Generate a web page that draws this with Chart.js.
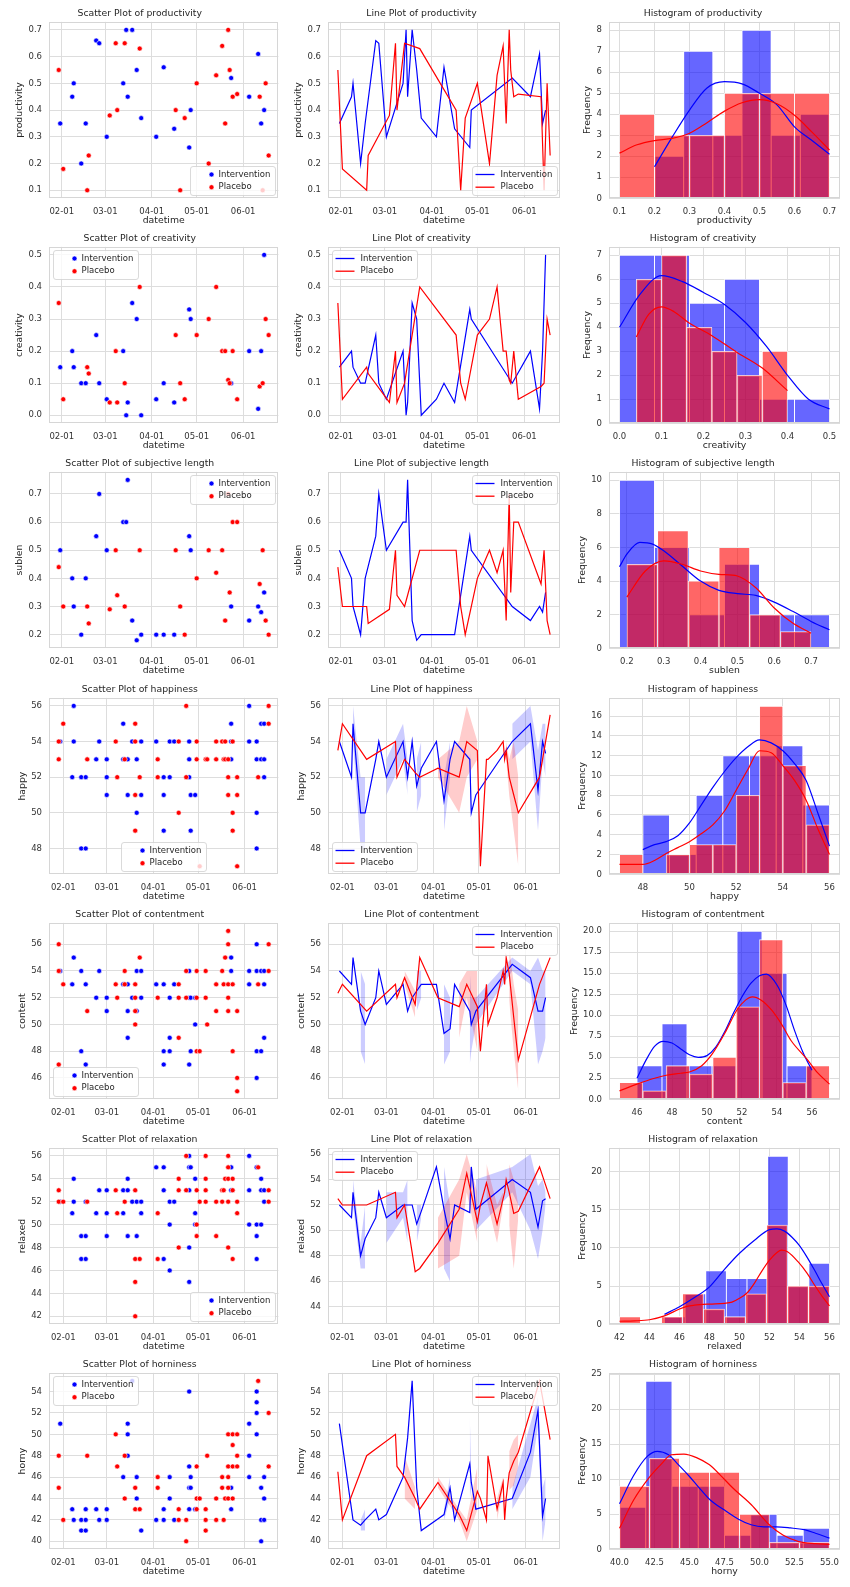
<!DOCTYPE html>
<html>
<head>
<meta charset="utf-8">
<script src="https://cdn.jsdelivr.net/npm/chart.js@4.4.1/dist/chart.umd.min.js"></script>
<style>
html,body{margin:0;padding:0;background:#fff;}
#wrap{position:relative;width:850px;height:1587px;overflow:hidden;background:#fff;}
#wrap canvas{position:absolute;}
</style>
</head>
<body>
<div id="wrap"></div>
<script>
// ---------------- DATA ----------------
const groupNames = ['Intervention', 'Placebo'];
const dateTickDays = [31, 60, 91, 121, 152];
const dateTickLabels = ['02-01', '03-01', '04-01', '05-01', '06-01'];

// rows 1-3: one measurement per day (day of year, Jan 1 = 0)
const intDaysA = [30,38,39,44,47,54,56,61,72,74,75,78,81,84,94,99,106,116,117,144,156,162,164,166];
const plcDaysA = [29,32,48,49,63,67,68,73,83,107,110,113,121,129,134,138,140,142,143,145,148,163,165,167,169];
const productivityInt = [0.35,0.45,0.5,0.2,0.35,0.66,0.65,0.3,0.5,0.7,0.45,0.7,0.55,0.37,0.3,0.56,0.33,0.26,0.4,0.52,0.45,0.61,0.35,0.4];
const productivityPlc = [0.55,0.18,0.1,0.23,0.38,0.65,0.4,0.65,0.63,0.4,0.1,0.37,0.5,0.2,0.53,0.64,0.35,0.7,0.55,0.45,0.46,0.45,0.1,0.5,0.23];
const creativityInt = [0.15,0.2,0.15,0.1,0.1,0.25,0.1,0.05,0.2,0.0,0.04,0.35,0.3,0.0,0.05,0.1,0.04,0.33,0.3,0.1,0.2,0.02,0.2,0.5];
const creativityPlc = [0.35,0.05,0.15,0.13,0.04,0.2,0.04,0.1,0.4,0.25,0.1,0.05,0.25,0.3,0.4,0.2,0.2,0.11,0.1,0.2,0.05,0.09,0.1,0.3,0.25];
const sublenInt = [0.5,0.4,0.3,0.2,0.4,0.55,0.7,0.5,0.6,0.6,0.75,0.25,0.18,0.2,0.2,0.2,0.2,0.55,0.5,0.3,0.25,0.3,0.28,0.35];
const sublenPlc = [0.44,0.3,0.3,0.24,0.29,0.5,0.34,0.3,0.5,0.5,0.3,0.2,0.4,0.5,0.42,0.5,0.25,0.7,0.35,0.6,0.6,0.38,0.5,0.25,0.2];

// rows 4-7: several measurements per day -> [day, value, value, ...]
const happyInt = [[29,54],[37,52],[38,56,54],[43,52,48],[46,52,48],[53,53],[55,54],[60,53,52,51],[71,55,53],[74,53,51],[77,54],[80,53,50],[83,54,51],[93,54],[98,52,51,49],[102,54,52],[105,54],[115,54,53,52],[116,51,49],[119,51],[143,55,54,53],[155,56,54],[160,54,53,50,48],[163,55,53],[165,55,53,52]];
const happyPlc = [[28,54,53],[31,55],[47,53],[66,54],[67,52],[72,53],[79,55,54,51,49],[82,52],[94,53,52],[108,54,50],[113,56,52],[120,54,53],[122,47],[126,53],[127,53],[133,54,53],[137,54],[138,53],[139,54,53],[141,53,52,51],[144,54,50,49],[147,52,51,47],[161,52],[168,56,55]];
const contentInt = [[29,54],[37,53],[38,55],[43,54,48],[46,53,47],[53,52],[55,54],[60,52,51],[71,53],[74,53,51,49],[77,52],[80,54,51],[83,54,52],[93,53],[98,53,48,47],[102,52,49,48],[105,53],[115,54,52,47],[116,52,48],[119,52,50],[143,55,54],[155,54,53],[160,56,54,48,46],[163,54,48],[165,54,53,49]];
const contentPlc = [[28,56,54,47],[31,53],[47,51],[66,53],[67,52],[72,54,53],[79,53,52,51,50],[82,55],[94,52],[108,53,52,49],[113,54,52],[120,54,52,48],[122,48],[126,54,52],[127,50],[133,53,51],[137,54],[138,53],[139,55],[141,57,56,53,52,51],[144,53,48],[147,51,46,45],[161,53],[168,56,54]];
const relaxedInt = [[29,52],[37,51],[38,54,52],[43,49,47],[46,52,49,47],[53,51],[55,53],[60,53,51,49],[71,53,51],[74,54,53,49],[77,52],[80,52,49],[83,52,51],[93,55],[98,55,53,47],[102,52,50,46],[105,52],[115,56,55,53,48,45],[116,55],[119,54,51,50],[143,55,53],[155,56,53,50],[160,55,50,49,47],[163,54,53,50],[165,53,52]];
const relaxedPlc = [[28,53,52],[31,52],[47,52],[66,53],[67,51],[72,52],[79,53,47,45,42],[82,47],[94,51,47],[108,54,53,48],[113,56,53],[120,53,50,49],[122,52],[126,56,54,53,52],[133,52,49],[137,53,52],[138,53],[139,54],[141,56,55,54,52,48],[144,54,53,47],[147,52,51],[161,55],[168,53,52]];
const hornyInt = [[29,51],[37,43],[38,42],[43,42,41],[46,43,42,41],[53,43],[55,42],[60,43,42],[71,46],[74,51,50,48],[77,55],[80,46,44],[83,41],[93,42],[98,43,42],[102,46,44],[105,42],[115,54,47,45,43],[116,46,45],[119,43],[143,45,43],[155,51,48,46],[160,54,53,52,50],[163,45,42,40],[165,46,44,42]];
const hornyPlc = [[28,48,45],[31,42],[47,48],[66,50],[67,47],[72,48,44],[79,45,43],[82,43],[94,46,45],[108,43,42],[113,42,40],[120,47,44,43],[122,44],[126,43,42,41],[127,48],[133,44,42],[137,46,45],[138,42],[139,44],[141,50,47,46,45,44],[144,50,49,47,44],[147,50,48,47],[161,55],[168,52,47]];

// histogram bins (edges) and counts
const productivityHistIntEdges = [0.2,0.2833,0.3667,0.45,0.5333,0.6167,0.7];
const productivityHistIntCounts = [2,7,3,8,3,4];
const productivityHistPlcEdges = [0.1,0.2,0.3,0.4,0.5,0.6,0.7];
const productivityHistPlcCounts = [4,3,3,5,5,5];
const creativityHistIntEdges = [0,0.0833,0.1667,0.25,0.3333,0.4167,0.5];
const creativityHistIntCounts = [7,7,5,6,1,1];
const creativityHistPlcEdges = [0.04,0.1,0.16,0.22,0.28,0.34,0.4];
const creativityHistPlcCounts = [6,7,4,3,2,3];
const sublenHistIntEdges = [0.18,0.275,0.37,0.465,0.56,0.655,0.75];
const sublenHistIntCounts = [10,6,2,5,2,2];
const sublenHistPlcEdges = [0.2,0.2833,0.3667,0.45,0.5333,0.6167,0.7];
const sublenHistPlcCounts = [5,7,4,6,2,1];
const happyHistIntEdges = [48,49.143,50.286,51.429,52.571,53.714,54.857,56];
const happyHistIntCounts = [6,2,8,12,12,13,7];
const happyHistPlcEdges = [47,48,49,50,51,52,53,54,55,56];
const happyHistPlcCounts = [2,0,2,3,3,8,17,11,5];
const contentHistIntEdges = [46,47.429,48.857,50.286,51.714,53.143,54.571,56];
const contentHistIntCounts = [4,9,4,4,20,15,4];
const contentHistPlcEdges = [45,46.333,47.667,49,50.333,51.667,53,54.333,55.667,57];
const contentHistPlcCounts = [2,1,4,3,5,11,19,2,4];
const relaxedHistIntEdges = [45,46.375,47.75,49.125,50.5,51.875,53.25,54.625,56];
const relaxedHistIntCounts = [1,4,7,6,6,22,5,8];
const relaxedHistPlcEdges = [42,43.4,44.8,46.2,47.6,49,50.4,51.8,53.2,54.6,56];
const relaxedHistPlcCounts = [1,0,1,4,2,1,4,13,5,5];
const hornyHistIntEdges = [40,41.875,43.75,45.625,47.5,49.375,51.25,53.125,55];
const hornyHistIntCounts = [6,24,9,9,2,5,2,3];
const hornyHistPlcEdges = [40,42.143,44.286,46.429,48.571,50.714,52.857,55];
const hornyHistPlcCounts = [9,13,11,11,5,1,1];

// density curves (in count units)
const productivityKdeIntX = [0.2,0.25,0.3,0.35,0.4,0.45,0.5,0.55,0.6,0.65,0.7];
const productivityKdeIntY = [1.5,2.9,4.2,5.25,5.55,5.45,5.0,4.45,3.4,2.75,2.1];
const productivityKdePlcX = [0.1,0.15,0.2,0.25,0.3,0.35,0.4,0.45,0.5,0.55,0.6,0.65,0.7];
const productivityKdePlcY = [2.15,2.55,2.75,2.85,3.1,3.6,4.15,4.55,4.7,4.5,3.95,3.15,2.3];
const creativityKdeIntX = [0,0.05,0.1,0.15,0.2,0.25,0.3,0.35,0.4,0.45,0.5];
const creativityKdeIntY = [4.0,5.4,6.15,5.9,5.45,4.95,4.2,3.2,2.0,1.0,0.6];
const creativityKdePlcX = [0.04,0.07,0.1,0.13,0.164,0.22,0.28,0.34,0.4];
const creativityKdePlcY = [3.6,4.55,4.85,4.65,4.2,3.65,2.95,2.3,1.36];
const sublenKdeIntX = [0.18,0.2,0.235,0.27,0.3,0.35,0.4,0.45,0.5,0.55,0.6,0.65,0.7,0.75];
const sublenKdeIntY = [4.85,5.6,6.3,6.2,5.8,4.9,4.0,3.45,3.25,3.15,2.75,2.2,1.6,1.1];
const sublenKdePlcX = [0.2,0.25,0.3,0.35,0.4,0.45,0.5,0.55,0.6,0.65,0.7];
const sublenKdePlcY = [3.05,4.6,5.2,5.0,4.6,4.4,4.3,3.6,2.4,1.5,0.9];
const happyKdeIntX = [48,48.5,49,49.5,50,50.5,51,51.5,52,52.5,53,53.5,54,54.5,55,55.5,56];
const happyKdeIntY = [2.5,3.0,3.3,3.9,5.2,7.0,8.8,10.4,11.8,12.9,13.6,13.3,12.5,11.2,9.5,6.2,2.85];
const happyKdePlcX = [47,47.5,48,48.5,49,49.5,50,50.5,51,51.5,52,52.5,53,53.5,54,54.5,55,55.5,56];
const happyKdePlcY = [1.0,1.0,1.0,1.4,2.1,2.7,3.3,4.1,5.0,6.4,8.5,10.6,12.5,12.3,11.0,9.5,7.5,4.6,2.0];
const contentKdeIntX = [46,46.5,47,47.5,48,48.5,49,49.5,50,50.5,51,51.5,52,52.5,53,53.4,54,54.5,55,55.5,56];
const contentKdeIntY = [2.5,4.6,6.3,6.9,6.7,6.0,5.3,5.0,5.2,6.2,8.0,10.2,12.2,13.8,14.7,14.9,13.6,11.3,8.2,5.5,3.45];
const contentKdePlcX = [45,46,47,47.67,48.5,49,49.7,50.3,51,51.7,52.2,52.6,53.1,53.7,54.3,54.8,55.7,56.3,57];
const contentKdePlcY = [1.0,1.8,2.5,2.86,3.1,3.25,4.0,5.4,7.8,10.6,11.8,12.2,11.8,10.6,8.8,7.0,4.8,3.2,1.8];
const relaxedKdeIntX = [45,46,47,48,49,50,51,52,52.5,53,53.5,54,54.5,55,55.5,56];
const relaxedKdeIntY = [1.3,2.3,3.5,4.9,7.2,9.3,11.0,12.4,12.5,12.2,11.4,10.3,8.8,7.1,5.3,3.6];
const relaxedKdePlcX = [42,43,44,45,46,46.5,47,48,49,49.5,50,50.5,51,51.5,52,52.5,52.8,53.2,53.9,54.5,55,55.5,56];
const relaxedKdePlcY = [0.4,0.45,0.6,1.1,2.0,2.35,2.5,2.65,2.75,2.9,3.4,4.1,5.4,7.0,8.4,9.4,9.7,9.5,8.2,6.7,5.15,3.7,2.4];
const hornyKdeIntX = [40,41,42,42.7,43.5,44.2,45,45.6,46.5,47.5,48.5,49.4,50.3,51.2,52.2,53.2,54,55];
const hornyKdeIntY = [6.5,10.5,13.3,14.0,13.5,12.1,10.4,9.0,7.0,5.6,4.3,3.5,3.2,3.2,3.05,2.8,2.3,1.6];
const hornyKdePlcX = [40,41,42.1,43,43.7,44.6,45.5,46.4,47.2,48.1,49.4,50.7,51.7,52.8,54,55];
const hornyKdePlcY = [3.0,7.0,10.2,12.2,13.5,13.6,13.1,12.1,10.6,8.75,6.4,3.5,2.0,1.1,0.8,0.7];

// tick values
const productivityTicks = [0.1,0.2,0.3,0.4,0.5,0.6,0.7];
const creativityTicks = [0,0.1,0.2,0.3,0.4,0.5];
const sublenTicks = [0.2,0.3,0.4,0.5,0.6,0.7];
const happyTicks = [48,50,52,54,56];
const contentTicks = [46,48,50,52,54,56];
const relaxedTicks = [42,44,46,48,50,52,54,56];
const relaxedLineTicks = [44,46,48,50,52,54,56];
const hornyTicks = [40,42,44,46,48,50,52,54];
const hornyHistXTicks = [40,42.5,45,47.5,50,52.5,55];
const productivityFreqTicks = [0,1,2,3,4,5,6,7,8];
const creativityFreqTicks = [0,1,2,3,4,5,6,7];
const sublenFreqTicks = [0,2,4,6,8,10];
const happyFreqTicks = [0,2,4,6,8,10,12,14,16];
const contentFreqTicks = [0,2.5,5,7.5,10,12.5,15,17.5,20];
const relaxedFreqTicks = [0,5,10,15,20];
const hornyFreqTicks = [0,5,10,15,20,25];

// ---------------- STYLE ----------------
const FONT = '"DejaVu Sans", sans-serif';
const TXT = '#262626', TICK = '#333333', GRID = '#dddddd', EDGE = '#d6d6d6';
const BLUE = '#0000ff', RED = '#ff0000';
Chart.defaults.font.family = FONT;
Chart.defaults.color = TXT;
Chart.defaults.animation = false;

const ROW_H = 225.2, CANVAS_H = 226, PLOT_BOTTOM = 198.3;
const COLS = [
  {left: 0, width: 283, plotLeft: 49, plotRight: 279.5},
  {left: 283, width: 283, plotLeft: 45, plotRight: 277},
  {left: 566, width: 284, plotLeft: 43, plotRight: 274}
];

// ---------------- helpers ----------------
function ptsFromParallel(days, vals) { return days.map((d, i) => ({x: d, y: vals[i]})); }
function ptsFromGroups(rows) {
  const out = [];
  rows.forEach(r => { for (let i = 1; i < r.length; i++) out.push({x: r[0], y: r[i]}); });
  return out;
}
function bootCI(v) {
  const n = v.length, ints = v.map(x => Math.round(x * 100));
  let dist = new Map([[0, 1]]);
  for (let k = 0; k < n; k++) {
    const nd = new Map();
    dist.forEach((p, s) => ints.forEach(iv => nd.set(s + iv, (nd.get(s + iv) || 0) + p / n)));
    dist = nd;
  }
  const sums = [...dist.keys()].sort((a, b) => a - b);
  let c = 0, lo = null, hi = null;
  for (const s of sums) {
    c += dist.get(s);
    if (lo === null && c >= 0.025 - 1e-12) lo = s;
    if (hi === null && c >= 0.975 - 1e-12) hi = s;
  }
  return [lo / (100 * n), hi / (100 * n)];
}
function aggregate(pts) {
  const m = new Map();
  pts.forEach(p => { if (!m.has(p.x)) m.set(p.x, []); m.get(p.x).push(p.y); });
  return [...m.keys()].sort((a, b) => a - b).map(d => {
    const v = m.get(d);
    const mean = v.reduce((a, b) => a + b, 0) / v.length;
    const ci = v.length > 1 ? bootCI(v) : null;
    return {x: d, mean, lo: ci ? ci[0] : null, hi: ci ? ci[1] : null};
  });
}
function barData(edges, counts) { return counts.map((c, i) => ({x: (edges[i] + edges[i + 1]) / 2, y: c})); }
function curve(xs, ys) { return xs.map((x, i) => ({x, y: ys[i]})); }

const measCtx = document.createElement('canvas').getContext('2d');
function yTitlePad(plotLeft, labels) {
  measCtx.font = '8.5px ' + FONT;
  const w = Math.max(...labels.map(l => measCtx.measureText(l).width));
  return Math.max(0, plotLeft - 7 - w - 8.6 - 5.6);
}
const fmtDate = v => { const i = dateTickDays.indexOf(v); return i >= 0 ? dateTickLabels[i] : ''; };
const fmtDec = d => (v => Number(v).toFixed(d));

function yAxis(col, min, max, ticks, dec, title) {
  const labels = ticks.map(v => v.toFixed(dec));
  return {
    type: 'linear', position: 'left', min, max,
    afterBuildTicks: s => { s.ticks = ticks.map(v => ({value: v})); },
    afterFit: s => { s.width = col.plotLeft; },
    grid: {color: GRID, lineWidth: 1, drawTicks: false},
    border: {display: false},
    ticks: {padding: 7, color: TICK, font: {size: 8.5}, callback: v => Number(v).toFixed(dec)},
    title: {display: true, text: title, color: TXT, font: {size: 9.3}, padding: {top: yTitlePad(col.plotLeft, labels), bottom: 0}}
  };
}
function xAxis(min, max, ticks, fmt, title) {
  return {
    type: 'linear', position: 'bottom', min, max, offset: false,
    afterBuildTicks: s => { s.ticks = ticks.map(v => ({value: v})); },
    afterFit: s => { s.height = CANVAS_H - PLOT_BOTTOM; },
    grid: {color: GRID, lineWidth: 1, drawTicks: false, offset: false},
    border: {display: false},
    ticks: {padding: 8, color: TICK, font: {size: 8.5}, maxRotation: 0, autoSkip: false, callback: v => fmt(v)},
    title: {display: true, text: title, color: TXT, font: {size: 9.3}, padding: {top: 0, bottom: 0}}
  };
}
function baseOptions(col, title, legend) {
  return {
    responsive: false, animation: false, events: [],
    layout: {padding: {left: 0, right: col.width - col.plotRight, top: 0, bottom: 0}},
    plugins: {
      legend: {display: false}, tooltip: {enabled: false},
      title: {display: true, text: title, color: TXT, font: {size: 9.3, weight: 'normal'}, padding: {top: 8.4, bottom: 2.3}},
      innerLegend: legend || {loc: ''}
    }
  };
}

// legend drawn inside the plot area, like matplotlib's
const innerLegend = {
  id: 'innerLegend',
  afterDraw(chart, args, opts) {
    if (!opts || !opts.loc) return;
    const ctx = chart.ctx, a = chart.chartArea;
    const items = [{label: groupNames[0], color: BLUE}, {label: groupNames[1], color: RED}];
    ctx.save();
    ctx.font = '8.5px ' + FONT;
    const tw = Math.max(...items.map(it => ctx.measureText(it.label).width));
    const w = Math.round(28 + tw + 5), h = 29, ins = 3.5;
    let x, y;
    const loc = opts.loc;
    if (loc.indexOf('left') >= 0) x = a.left + ins;
    else if (loc.indexOf('right') >= 0) x = a.right - ins - w;
    else x = (a.left + a.right) / 2 - w / 2;
    if (loc.indexOf('upper') === 0) y = a.top + ins; else y = a.bottom - ins - h;
    x = Math.round(x) + 0.5; y = Math.round(y) + 0.5;
    ctx.beginPath();
    if (ctx.roundRect) ctx.roundRect(x, y, w, h, 2.5); else ctx.rect(x, y, w, h);
    ctx.fillStyle = 'rgba(255,255,255,0.8)'; ctx.fill();
    ctx.strokeStyle = '#d0d0d0'; ctx.lineWidth = 0.8; ctx.stroke();
    items.forEach((it, i) => {
      const cy = y + 8 + i * 12.7;
      if (opts.kind === 'scatter') {
        ctx.beginPath(); ctx.arc(x + 21, cy, 2.5, 0, Math.PI * 2);
        ctx.fillStyle = it.color; ctx.fill();
        ctx.strokeStyle = '#fff'; ctx.lineWidth = 0.6; ctx.stroke();
      } else {
        ctx.beginPath(); ctx.moveTo(x + 3, cy); ctx.lineTo(x + 22, cy);
        ctx.strokeStyle = it.color; ctx.lineWidth = 1.3; ctx.stroke();
      }
      ctx.fillStyle = TXT; ctx.textBaseline = 'middle'; ctx.textAlign = 'left';
      ctx.fillText(it.label, x + 28, cy);
    });
    ctx.restore();
  }
};
const frame = {
  id: 'frame',
  afterDatasetsDraw(chart) {
    const {ctx, chartArea: a} = chart;
    ctx.save();
    ctx.strokeStyle = EDGE; ctx.lineWidth = 1;
    const l = Math.round(a.left) + 0.5, t = Math.round(a.top) + 0.5, r = Math.round(a.right) - 0.5, b = Math.round(a.bottom) - 0.5;
    ctx.strokeRect(l, t, r - l, b - t);
    ctx.restore();
  }
};
Chart.register(innerLegend, frame);

// ---------------- rows ----------------
const xRangeA = [22.5, 175.5], xRangeB = [21.5, 174.5];
const rows = [
  {name: 'productivity', v: 'productivity', int: ptsFromParallel(intDaysA, productivityInt), plc: ptsFromParallel(plcDaysA, productivityPlc), xr: xRangeA,
   y: [0.07, 0.73], yt: productivityTicks, dec: 1, ly: [0.07, 0.73], lyt: productivityTicks, sl: 'lower right', ll: 'lower right',
   h: {x: [0.07, 0.73], xt: productivityTicks, xd: 1, y: [0, 8.4], yt: productivityFreqTicks, yd: 0,
       bi: barData(productivityHistIntEdges, productivityHistIntCounts), bp: barData(productivityHistPlcEdges, productivityHistPlcCounts),
       ki: curve(productivityKdeIntX, productivityKdeIntY), kp: curve(productivityKdePlcX, productivityKdePlcY)}},
  {name: 'creativity', v: 'creativity', int: ptsFromParallel(intDaysA, creativityInt), plc: ptsFromParallel(plcDaysA, creativityPlc), xr: xRangeA,
   y: [-0.025, 0.525], yt: creativityTicks, dec: 1, ly: [-0.025, 0.525], lyt: creativityTicks, sl: 'upper left', ll: 'upper left',
   h: {x: [-0.025, 0.525], xt: creativityTicks, xd: 1, y: [0, 7.35], yt: creativityFreqTicks, yd: 0,
       bi: barData(creativityHistIntEdges, creativityHistIntCounts), bp: barData(creativityHistPlcEdges, creativityHistPlcCounts),
       ki: curve(creativityKdeIntX, creativityKdeIntY), kp: curve(creativityKdePlcX, creativityKdePlcY)}},
  {name: 'subjective length', v: 'sublen', int: ptsFromParallel(intDaysA, sublenInt), plc: ptsFromParallel(plcDaysA, sublenPlc), xr: xRangeA,
   y: [0.1515, 0.7785], yt: sublenTicks, dec: 1, ly: [0.1515, 0.7785], lyt: sublenTicks, sl: 'upper right', ll: 'upper right',
   h: {x: [0.1515, 0.7785], xt: sublenTicks, xd: 1, y: [0, 10.5], yt: sublenFreqTicks, yd: 0,
       bi: barData(sublenHistIntEdges, sublenHistIntCounts), bp: barData(sublenHistPlcEdges, sublenHistPlcCounts),
       ki: curve(sublenKdeIntX, sublenKdeIntY), kp: curve(sublenKdePlcX, sublenKdePlcY)}},
  {name: 'happiness', v: 'happy', int: ptsFromGroups(happyInt), plc: ptsFromGroups(happyPlc), xr: xRangeB,
   y: [46.55, 56.45], yt: happyTicks, dec: 0, ly: [46.55, 56.45], lyt: happyTicks, sl: 'lower center', ll: 'lower left',
   h: {x: [46.55, 56.45], xt: happyTicks, xd: 0, y: [0, 17.85], yt: happyFreqTicks, yd: 0,
       bi: barData(happyHistIntEdges, happyHistIntCounts), bp: barData(happyHistPlcEdges, happyHistPlcCounts),
       ki: curve(happyKdeIntX, happyKdeIntY), kp: curve(happyKdePlcX, happyKdePlcY)}},
  {name: 'contentment', v: 'content', int: ptsFromGroups(contentInt), plc: ptsFromGroups(contentPlc), xr: xRangeB,
   y: [44.4, 57.6], yt: contentTicks, dec: 0, ly: [44.4, 57.6], lyt: contentTicks, sl: 'lower left', ll: 'upper right',
   h: {x: [44.4, 57.6], xt: contentTicks, xd: 0, y: [0, 21], yt: contentFreqTicks, yd: 1,
       bi: barData(contentHistIntEdges, contentHistIntCounts), bp: barData(contentHistPlcEdges, contentHistPlcCounts),
       ki: curve(contentKdeIntX, contentKdeIntY), kp: curve(contentKdePlcX, contentKdePlcY)}},
  {name: 'relaxation', v: 'relaxed', int: ptsFromGroups(relaxedInt), plc: ptsFromGroups(relaxedPlc), xr: xRangeB,
   y: [41.3, 56.7], yt: relaxedTicks, dec: 0, ly: [42.6, 56.5], lyt: relaxedLineTicks, sl: 'lower right', ll: 'upper left',
   h: {x: [41.3, 56.7], xt: relaxedTicks, xd: 0, y: [0, 23.1], yt: relaxedFreqTicks, yd: 0,
       bi: barData(relaxedHistIntEdges, relaxedHistIntCounts), bp: barData(relaxedHistPlcEdges, relaxedHistPlcCounts),
       ki: curve(relaxedKdeIntX, relaxedKdeIntY), kp: curve(relaxedKdePlcX, relaxedKdePlcY)}},
  {name: 'horniness', v: 'horny', int: ptsFromGroups(hornyInt), plc: ptsFromGroups(hornyPlc), xr: xRangeB,
   y: [39.25, 55.75], yt: hornyTicks, dec: 0, ly: [39.25, 55.75], lyt: hornyTicks, sl: 'upper left', ll: 'upper right',
   h: {x: [39.25, 55.75], xt: hornyHistXTicks, xd: 1, y: [0, 25.2], yt: hornyFreqTicks, yd: 0,
       bi: barData(hornyHistIntEdges, hornyHistIntCounts), bp: barData(hornyHistPlcEdges, hornyHistPlcCounts),
       ki: curve(hornyKdeIntX, hornyKdeIntY), kp: curve(hornyKdePlcX, hornyKdePlcY)}}
];

const wrap = document.getElementById('wrap');
function makeCanvas(r, c) {
  const col = COLS[c];
  const cv = document.createElement('canvas');
  cv.width = col.width; cv.height = CANVAS_H;
  cv.style.left = col.left + 'px';
  cv.style.top = Math.round(r * ROW_H) + 'px';
  cv.style.width = col.width + 'px'; cv.style.height = CANVAS_H + 'px';
  wrap.appendChild(cv);
  return cv;
}

rows.forEach((R, r) => {
  // scatter
  {
    const col = COLS[0];
    const opts = baseOptions(col, 'Scatter Plot of ' + R.name, {loc: R.sl, kind: 'scatter'});
    opts.scales = {x: xAxis(R.xr[0], R.xr[1], dateTickDays, fmtDate, 'datetime'), y: yAxis(col, R.y[0], R.y[1], R.yt, R.dec, R.v)};
    new Chart(makeCanvas(r, 0), {
      type: 'scatter',
      data: {datasets: [
        {label: groupNames[0], data: R.int, backgroundColor: BLUE, borderColor: '#ffffff', borderWidth: 0.6, pointRadius: 2.5, order: 1},
        {label: groupNames[1], data: R.plc, backgroundColor: RED, borderColor: '#ffffff', borderWidth: 0.6, pointRadius: 2.5, order: 0}
      ]},
      options: opts
    });
  }
  // line
  {
    const col = COLS[1];
    const ai = aggregate(R.int), ap = aggregate(R.plc);
    const mk = (agg, key) => agg.map(a => ({x: a.x, y: a[key]}));
    const opts = baseOptions(col, 'Line Plot of ' + R.name, {loc: R.ll, kind: 'line'});
    opts.scales = {x: xAxis(R.xr[0], R.xr[1], dateTickDays, fmtDate, 'datetime'), y: yAxis(col, R.ly[0], R.ly[1], R.lyt, R.dec, R.v)};
    const none = 'rgba(0,0,0,0)';
    new Chart(makeCanvas(r, 1), {
      type: 'line',
      data: {datasets: [
        {label: groupNames[0], data: mk(ai, 'mean'), borderColor: BLUE, borderWidth: 1.2, pointRadius: 0, fill: false, order: 1},
        {label: groupNames[1], data: mk(ap, 'mean'), borderColor: RED, borderWidth: 1.2, pointRadius: 0, fill: false, order: 0},
        {label: 'ci-hi-int', data: mk(ai, 'hi'), borderColor: none, borderWidth: 1, pointRadius: 0, fill: false, order: 3},
        {label: 'ci-lo-int', data: mk(ai, 'lo'), borderColor: none, borderWidth: 1, pointRadius: 0, fill: 2, backgroundColor: 'rgba(0,0,255,0.2)', order: 3},
        {label: 'ci-hi-plc', data: mk(ap, 'hi'), borderColor: none, borderWidth: 1, pointRadius: 0, fill: false, order: 2},
        {label: 'ci-lo-plc', data: mk(ap, 'lo'), borderColor: none, borderWidth: 1, pointRadius: 0, fill: 4, backgroundColor: 'rgba(255,0,0,0.2)', order: 2}
      ]},
      options: opts
    });
  }
  // histogram
  {
    const col = COLS[2], H = R.h;
    const opts = baseOptions(col, 'Histogram of ' + R.name, null);
    const x2 = {type: 'linear', display: false, min: H.x[0], max: H.x[1], offset: false,
      afterBuildTicks: s => { s.ticks = [{value: H.x[0]}, {value: H.x[1]}]; }, grid: {offset: false}};
    opts.scales = {x: xAxis(H.x[0], H.x[1], H.xt, fmtDec(H.xd), R.v), x2, y: yAxis(col, H.y[0], H.y[1], H.yt, H.yd, 'Frequency')};
    const barCommon = {borderColor: 'rgba(255,255,255,0.85)', borderWidth: 0.8, barPercentage: 1, categoryPercentage: 1, grouped: false, yAxisID: 'y'};
    new Chart(makeCanvas(r, 2), {
      type: 'bar',
      data: {datasets: [
        Object.assign({type: 'bar', label: groupNames[0], data: H.bi, xAxisID: 'x', backgroundColor: 'rgba(0,0,255,0.6)', order: 3}, barCommon),
        Object.assign({type: 'bar', label: groupNames[1], data: H.bp, xAxisID: 'x2', backgroundColor: 'rgba(255,0,0,0.6)', order: 2}, barCommon),
        {type: 'line', label: 'kde-int', data: H.ki, xAxisID: 'x', yAxisID: 'y', borderColor: BLUE, borderWidth: 1.2, pointRadius: 0, fill: false, cubicInterpolationMode: 'monotone', order: 1},
        {type: 'line', label: 'kde-plc', data: H.kp, xAxisID: 'x', yAxisID: 'y', borderColor: RED, borderWidth: 1.2, pointRadius: 0, fill: false, cubicInterpolationMode: 'monotone', order: 0}
      ]},
      options: opts
    });
  }
});
</script>
</body>
</html>
